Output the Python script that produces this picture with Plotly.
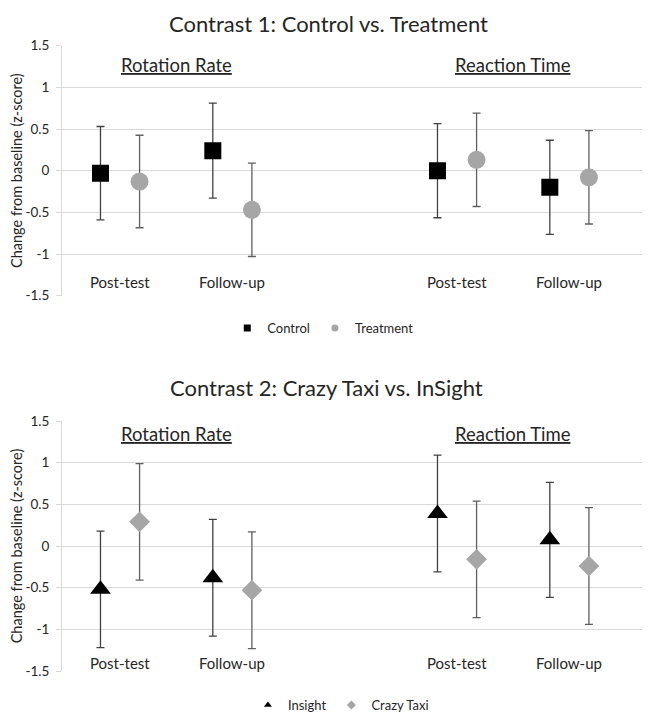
import plotly.graph_objects as go

# category centres on a numeric x axis (Rotation Rate: 1, 2 / Reaction Time: 4, 5)
categories = ["Post-test", "Follow-up", "Post-test", "Follow-up"]
cat_pos = [1, 2, 4, 5]
measures = ["Rotation Rate", "Reaction Time"]
measure_pos = [1.5, 4.5]

y_ticks = [1.5, 1, 0.5, 0, -0.5, -1, -1.5]
y_tick_text = ["1.5", "1", "0.5", "0", "-0.5", "-1", "-1.5"]

# Contrast 1: Control vs. Treatment
control_mean = [-0.03, 0.24, 0.00, -0.20]
control_err = [0.56, 0.57, 0.565, 0.565]
treatment_mean = [-0.13, -0.47, 0.13, -0.08]
treatment_err = [0.555, 0.56, 0.56, 0.56]

# Contrast 2: Crazy Taxi vs. InSight
insight_mean = [-0.52, -0.38, 0.39, 0.075]
insight_err = [0.70, 0.70, 0.70, 0.69]
crazy_mean = [0.29, -0.53, -0.16, -0.24]
crazy_err = [0.70, 0.70, 0.70, 0.70]

FONT = "Lato"
TXT = "#262626"
GRID = "#d9d9d9"
OFF = 0.174  # side-by-side offset inside a category

left_x = [p - OFF for p in cat_pos]
right_x = [p + OFF for p in cat_pos]

fig = go.Figure()


def add_series(x, y, err, symbol, size, color, bar_color, xa, ya):
    fig.add_trace(go.Scatter(
        x=x, y=y, mode="markers", xaxis=xa, yaxis=ya, showlegend=False,
        marker=dict(symbol=symbol, size=size, color=color),
        error_y=dict(type="data", array=err, color=bar_color, thickness=1.3, width=4),
    ))


def add_legend_item(name, symbol, size, color, legend):
    # small legend-only marker, like the Excel legend
    fig.add_trace(go.Scatter(
        x=[None], y=[None], mode="markers", name=name, legend=legend,
        marker=dict(symbol=symbol, size=size, color=color),
    ))


add_series(left_x, control_mean, control_err, "square", 17, "black", "#404040", "x", "y")
add_series(right_x, treatment_mean, treatment_err, "circle", 18, "#a6a6a6", "#5f5f5f", "x", "y")
add_series(left_x, insight_mean, insight_err, "triangle-up", 18, "black", "#404040", "x2", "y2")
add_series(right_x, crazy_mean, crazy_err, "diamond", 16, "#a6a6a6", "#5f5f5f", "x2", "y2")

add_legend_item("Control", "square", 7, "black", "legend")
add_legend_item("Treatment", "circle", 7, "#a6a6a6", "legend")
add_legend_item("Insight", "triangle-up", 7, "black", "legend2")
add_legend_item("Crazy Taxi", "diamond", 7, "#a6a6a6", "legend2")

xaxis_style = dict(range=[0.4835, 5.70], showticklabels=False, showgrid=False,
                   zeroline=False, showline=False, fixedrange=True)
yaxis_style = dict(range=[-1.5, 1.5], tickvals=y_ticks, ticktext=y_tick_text,
                   showgrid=True, gridcolor=GRID, gridwidth=1, zeroline=False,
                   showline=True, linecolor=GRID, ticks="outside", ticklen=5,
                   tickcolor=GRID, ticklabelstandoff=4,
                   tickfont=dict(size=13.5, color=TXT),
                   title=dict(text="Change from baseline (z-score)",
                              font=dict(size=14.5, color=TXT), standoff=3))

annotations = []
for row, (yref, cat_y, head_y) in enumerate([("y", -1.33, 1.27), ("y2", -1.40, 1.35)]):
    xref = "x" if row == 0 else "x2"
    for cat, pos in zip(categories, cat_pos):
        annotations.append(dict(text=cat, x=pos, y=cat_y, xref=xref, yref=yref,
                                showarrow=False, font=dict(size=15, color=TXT)))
    for m, pos in zip(measures, measure_pos):
        annotations.append(dict(text="<u>" + m + "</u>", x=pos, y=head_y, xref=xref,
                                yref=yref, showarrow=False, font=dict(size=18.5, color=TXT)))

annotations.append(dict(text="Contrast 1: Control vs. Treatment", x=0.4556, y=1.0,
                        xref="paper", yref="paper", showarrow=False,
                        yanchor="top", font=dict(size=22, color=TXT)))
annotations.append(dict(text="Contrast 2: Crazy Taxi vs. InSight", x=0.4522, y=0.4639,
                        xref="paper", yref="paper", showarrow=False,
                        yanchor="middle", font=dict(size=22, color=TXT)))

legend_style = dict(orientation="h", xanchor="center", yanchor="middle",
                    font=dict(size=13, color=TXT), bgcolor="rgba(0,0,0,0)",
                    itemwidth=30, tracegroupgap=0)

# the page body adds an 8px offset, so the figure is 8px smaller than the window
fig.update_layout(
    width=642, height=707,
    margin=dict(l=54, r=2, t=0, b=0, autoexpand=False),
    paper_bgcolor="white", plot_bgcolor="white",
    font=dict(family=FONT, color=TXT),
    xaxis=dict(domain=[0, 1], anchor="y", **xaxis_style),
    yaxis=dict(domain=[0.5931, 0.9467], anchor="x", **yaxis_style),
    xaxis2=dict(domain=[0, 1], anchor="y2", **xaxis_style),
    yaxis2=dict(domain=[0.0622, 0.4158], anchor="x2", **yaxis_style),
    legend=dict(x=0.445, y=0.5474, **legend_style),
    legend2=dict(x=0.476, y=0.0141, **legend_style),
    annotations=annotations,
)

fig.write_html("out.html")
